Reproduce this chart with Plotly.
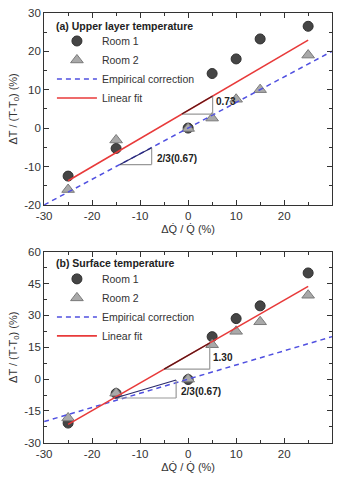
import plotly.graph_objects as go

# ---------------- data ----------------
x_vals = [-25, -15, 0, 5, 10, 15, 25]
a_room1 = [-12.5, -5.3, 0.0, 14.2, 18.0, 23.2, 26.5]
a_room2 = [-16.0, -3.1, -0.1, 2.6, 7.5, 10.0, 19.0]
b_room1 = [-20.7, -6.8, -0.2, 20.0, 28.5, 34.5, 50.0]
b_room2 = [-18.3, -6.6, 0.0, 16.2, 22.5, 27.0, 39.5]

emp_x = [-30, 30]
emp_y = [-20, 20]
a_fit_x = [-25, 25]
a_fit_y = [-13.7, 22.9]
b_fit_x = [-25, 25]
b_fit_y = [-21.3, 43.7]

x_ticks = [-30, -20, -10, 0, 10, 20, 30]
x_tick_labels = ["-30", "-20", "-10", "0", "10", "20", "30"]
ya_ticks = [-20, -10, 0, 10, 20, 30]
ya_tick_labels = ["-20", "-10", "0", "10", "20", "30"]
yb_ticks = [-30, -15, 0, 15, 30, 45, 60]
yb_tick_labels = ["-30", "-15", "0", "15", "30", "45", "60"]

# slope-triangle helpers: (x start, x end) along the line
a_fit_tri = [-1.3, 5.1]
a_emp_tri = [-14.2, -7.6]
a_emp_tri_y0 = -9.5
b_fit_tri = [-5.0, 4.5]
b_emp_tri = [-15.2, -2.5]
b_emp_tri_y0 = -8.9

FONT = "Liberation Sans, Arial, sans-serif"
TXT = "#333333"

def line_at(xs, ys, x):
    s = (ys[1] - ys[0]) / (xs[1] - xs[0])
    return ys[0] + s * (x - xs[0])

fig = go.Figure()

def add_panel(xa, ya, r1, r2, fx, fy, legend):
    fig.add_trace(go.Scatter(x=x_vals, y=r1, mode="markers", name="Room 1",
                             xaxis=xa, yaxis=ya, legend=legend,
                             marker=dict(symbol="circle", size=10, color="#454545",
                                         line=dict(color="#303030", width=1))))
    fig.add_trace(go.Scatter(x=x_vals, y=r2, mode="markers", name="Room 2",
                             xaxis=xa, yaxis=ya, legend=legend,
                             marker=dict(symbol="triangle-up", size=11, color="#a9a9a9",
                                         line=dict(color="#7a7a7a", width=1))))
    fig.add_trace(go.Scatter(x=emp_x, y=emp_y, mode="lines", name="Empirical correction",
                             xaxis=xa, yaxis=ya, legend=legend,
                             line=dict(color="#5050e0", width=1.5, dash="5px,4px")))
    fig.add_trace(go.Scatter(x=fx, y=fy, mode="lines", name="Linear fit",
                             xaxis=xa, yaxis=ya, legend=legend,
                             line=dict(color="#e83a3a", width=1.6)))

add_panel("x", "y", a_room1, a_room2, a_fit_x, a_fit_y, "legend")
add_panel("x2", "y2", b_room1, b_room2, b_fit_x, b_fit_y, "legend2")

shapes = []
annotations = []

def fit_triangle(xr, yr, xs, fx, fy, hyp_color):
    x0, x1 = xs
    y0 = line_at(fx, fy, x0)
    y1 = line_at(fx, fy, x1)
    shapes.append(dict(type="line", xref=xr, yref=yr, x0=x0, y0=y0, x1=x1, y1=y0,
                       line=dict(color="#999999", width=1.2)))
    shapes.append(dict(type="line", xref=xr, yref=yr, x0=x1, y0=y0, x1=x1, y1=y1,
                       line=dict(color="#999999", width=1.2)))
    shapes.append(dict(type="line", xref=xr, yref=yr, x0=x0, y0=y0, x1=x1, y1=y1,
                       line=dict(color=hyp_color, width=1.2)))

def emp_triangle(xr, yr, xs, ybase):
    x0, x1 = xs
    s = (emp_y[1] - emp_y[0]) / (emp_x[1] - emp_x[0])
    y1 = ybase + s * (x1 - x0)
    shapes.append(dict(type="line", xref=xr, yref=yr, x0=x0, y0=ybase, x1=x1, y1=ybase,
                       line=dict(color="#999999", width=1.2)))
    shapes.append(dict(type="line", xref=xr, yref=yr, x0=x1, y0=ybase, x1=x1, y1=y1,
                       line=dict(color="#999999", width=1.2)))
    shapes.append(dict(type="line", xref=xr, yref=yr, x0=x0, y0=ybase, x1=x1, y1=y1,
                       line=dict(color="#2a2a6a", width=1.2)))
    return x1, ybase, y1

lab_font = dict(size=10, color="#222", family=FONT)

fit_triangle("x", "y", a_fit_tri, a_fit_x, a_fit_y, "#5a1818")
ex, eb, et = emp_triangle("x", "y", a_emp_tri, a_emp_tri_y0)
annotations.append(dict(x=a_fit_tri[1] + 0.3, y=line_at(a_fit_x, a_fit_y, a_fit_tri[1]) - 1.3,
                        xref="x", yref="y", text="<b>0.73</b>", showarrow=False,
                        xanchor="left", yanchor="middle", font=lab_font))
annotations.append(dict(x=ex + 0.6, y=(eb + et) / 2 - 0.6, xref="x", yref="y",
                        text="<b>2/3(0.67)</b>", showarrow=False, xanchor="left", yanchor="middle",
                        font=lab_font))

fit_triangle("x2", "y2", b_fit_tri, b_fit_x, b_fit_y, "#5a1818")
ex, eb, et = emp_triangle("x2", "y2", b_emp_tri, b_emp_tri_y0)
annotations.append(dict(x=b_fit_tri[1] + 0.3, y=10.3, xref="x2", yref="y2",
                        text="<b>1.30</b>", showarrow=False, xanchor="left", yanchor="middle",
                        font=lab_font))
annotations.append(dict(x=ex + 0.6, y=-5.8, xref="x2", yref="y2",
                        text="<b>2/3(0.67)</b>", showarrow=False, xanchor="left", yanchor="middle",
                        font=lab_font))

W, H = 338, 481
annotations.append(dict(x=47 / W, y=1 - 21 / H, xref="paper", yref="paper",
                        text="<b>(a) Upper layer temperature</b>", showarrow=False,
                        xanchor="left", yanchor="middle", font=dict(size=10.5, color="#222", family=FONT)))
annotations.append(dict(x=47 / W, y=1 - 264 / H, xref="paper", yref="paper",
                        text="<b>(b) Surface temperature</b>", showarrow=False,
                        xanchor="left", yanchor="middle", font=dict(size=10.5, color="#222", family=FONT)))

def xaxis_cfg(anchor):
    return dict(domain=[37 / W, 332 / W], anchor=anchor, range=[-30, 30],
                tickmode="array", tickvals=x_ticks, ticktext=x_tick_labels,
                ticks="inside", ticklen=5, tickwidth=1, tickcolor="#333",
                minor=dict(ticks="inside", ticklen=3, dtick=5, tick0=0, tickcolor="#333"),
                showline=True, linecolor="#333", linewidth=1, mirror="ticks",
                showgrid=False, zeroline=False,
                tickfont=dict(size=11.5, color=TXT, family=FONT),
                title=dict(text="ΔQ̇ / Q̇ (%)", font=dict(size=11, color=TXT, family=FONT), standoff=4))

def yaxis_cfg(anchor, dom, rng, tv, tt, minor_dt):
    return dict(domain=dom, anchor=anchor, range=rng,
                tickmode="array", tickvals=tv, ticktext=tt,
                ticks="inside", ticklen=5, tickwidth=1, tickcolor="#333",
                minor=dict(ticks="inside", ticklen=3, dtick=minor_dt, tick0=0, tickcolor="#333"),
                showline=True, linecolor="#333", linewidth=1, mirror="ticks",
                showgrid=False, zeroline=False,
                tickfont=dict(size=11.5, color=TXT, family=FONT),
                title=dict(text="ΔT / (T-T<sub>0</sub>) (%)", font=dict(size=11, color=TXT, family=FONT), standoff=4))

legend_common = dict(bgcolor="rgba(0,0,0,0)", borderwidth=0, xanchor="left", yanchor="top",
                     font=dict(size=10.5, color=TXT, family=FONT), itemwidth=40,
                     tracegroupgap=0)

fig.update_layout(
    width=W, height=H, margin=dict(l=0, r=0, t=0, b=0),
    paper_bgcolor="white", plot_bgcolor="white",
    font=dict(family=FONT, color=TXT),
    xaxis=xaxis_cfg("y"),
    yaxis=yaxis_cfg("x", [1 - 204 / H, 1 - 7 / H], [-20, 30], ya_ticks, ya_tick_labels, 5),
    xaxis2=xaxis_cfg("y2"),
    yaxis2=yaxis_cfg("x2", [1 - 448 / H, 1 - 252 / H], [-30, 60], yb_ticks, yb_tick_labels, 7.5),
    legend=dict(x=45 / W, y=1 - 21 / H, **legend_common),
    legend2=dict(x=45 / W, y=1 - 265 / H, **legend_common),
    shapes=shapes, annotations=annotations,
    showlegend=True,
)

fig.write_html("out.html")
